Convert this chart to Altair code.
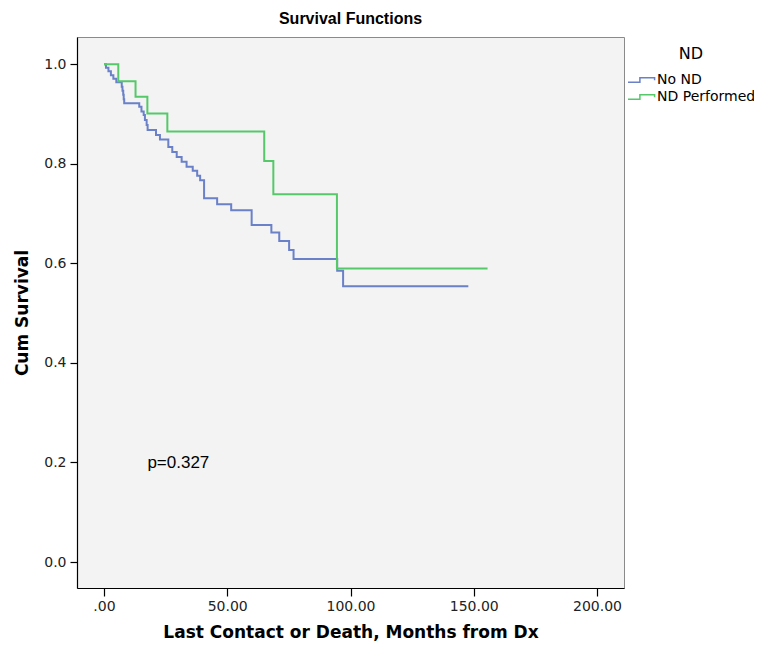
import altair as alt
import pandas as pd

groups = ["No ND", "ND Performed"]
colors = ["#6a80c9", "#55c96a"]

# Kaplan-Meier step points (time in months, cumulative survival)
blue_t = [0, 0.8, 1.8, 2.8, 3.8, 5.0, 7.2, 7.5, 7.8, 8.0, 8.2, 14.3, 15.2, 16.1, 16.6, 17.3, 17.7,
          21.1, 22.7, 26.1, 27.7, 29.5, 31.5, 33.5, 36.0, 37.8, 39.0, 40.6, 45.9, 51.6, 59.9,
          67.9, 71.1, 75.1, 76.9, 94.6, 97.0, 147.8]
blue_s = [1.0, 0.993, 0.986, 0.978, 0.971, 0.964, 0.955, 0.947, 0.939, 0.930, 0.922, 0.915, 0.905,
          0.898, 0.888, 0.878, 0.868, 0.858, 0.849, 0.834, 0.824, 0.814, 0.804, 0.794, 0.786,
          0.776, 0.767, 0.731, 0.719, 0.707, 0.677, 0.662, 0.645, 0.627, 0.609, 0.585, 0.554, 0.554]

green_t = [0, 5.8, 12.8, 17.6, 25.7, 65.0, 68.7, 94.5, 155.6]
green_s = [1.0, 0.966, 0.935, 0.901, 0.865, 0.806, 0.739, 0.590, 0.590]

x_ticks = [0, 50, 100, 150, 200]
y_ticks = [0.0, 0.2, 0.4, 0.6, 0.8, 1.0]
x_domain = [-10.95, 210.95]
y_domain = [-0.0522, 1.0549]

annot_text = ["p=0.327"]
annot_t = [17.6]
annot_s = [0.199]

df = pd.concat([
    pd.DataFrame({"t": blue_t, "s": blue_s, "grp": groups[0]}),
    pd.DataFrame({"t": green_t, "s": green_s, "grp": groups[1]}),
])
ann = pd.DataFrame({"t": annot_t, "s": annot_s, "label": annot_text})

FONT = "DejaVu Sans"
FONT2 = "Liberation Sans"

x_enc = alt.X("t:Q", scale=alt.Scale(domain=x_domain, nice=False, zero=False),
              axis=alt.Axis(title="Last Contact or Death, Months from Dx", values=x_ticks,
                            labelExpr="datum.value == 0 ? '.00' : format(datum.value, '.2f')",
                            tickSize=8, labelPadding=3, titlePadding=11))
y_enc = alt.Y("s:Q", scale=alt.Scale(domain=y_domain, nice=False, zero=False),
              axis=alt.Axis(title="Cum Survival", values=y_ticks, format=".1f",
                            tickSize=7, labelPadding=4, titlePadding=12))

lines = alt.Chart(df).mark_line(interpolate="step-after", strokeWidth=2, clip=True).encode(
    x=x_enc,
    y=y_enc,
    color=alt.Color("grp:N", scale=alt.Scale(domain=groups, range=colors),
                    legend=alt.Legend(title="ND", orient="none", legendX=550, legendY=9,
                                      symbolType="M-1,0.32 L0.7,0.32 L0.7,-0.32 L2.8,-0.32 L2.8,0.05",
                                      symbolSize=196, symbolStrokeWidth=1.5,
                                      symbolFillColor="transparent", labelOffset=14,
                                      titleAnchor="middle", titleAlign="center",
                                      titleFontWeight="normal", titleFontSize=16,
                                      titleFont=FONT, titleColor="black", titlePadding=10,
                                      labelFont=FONT, labelFontSize=14, labelColor="black",
                                      padding=0, rowPadding=2)),
)

text = alt.Chart(ann).mark_text(align="left", baseline="middle", font=FONT2, fontSize=17,
                                color="black").encode(
    x=alt.X("t:Q"), y=alt.Y("s:Q"), text="label:N")

chart = alt.layer(lines, text).properties(
    width=547, height=551,
    title=alt.TitleParams("Survival Functions", anchor="middle", font=FONT2, fontSize=16,
                          fontWeight="bold", color="black", offset=10),
    autosize=alt.AutoSizeParams(type="none"),
    padding={"left": 69, "top": 29, "right": 130, "bottom": 60},
    background="white",
).configure_view(
    fill="#f3f3f3", stroke="#8a8a8a", strokeWidth=1
).configure_axis(
    grid=False, domainColor="black", domainWidth=1.2, tickColor="black", tickWidth=1.2,
    labelFont=FONT, labelFontSize=14, labelColor="#222222",
    titleFont=FONT, titleFontSize=17, titleFontWeight="bold", titleColor="black"
)

chart.save("out.html", embed_options={"renderer": "svg", "actions": False})
